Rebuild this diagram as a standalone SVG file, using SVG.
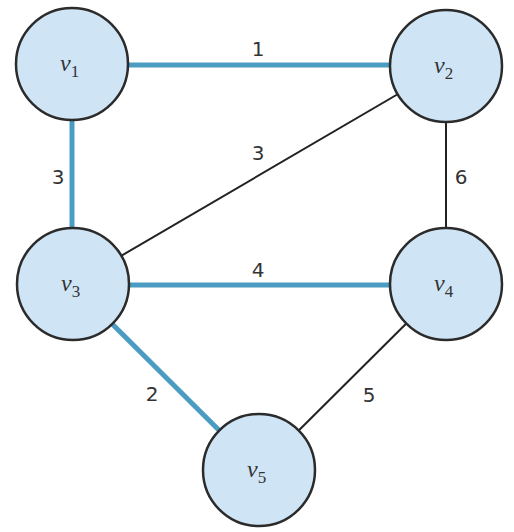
<svg xmlns="http://www.w3.org/2000/svg" width="514" height="532" viewBox="0 0 514 532">
<style>
.mst{stroke:#4a9cc2;stroke-width:5;fill:none}
.thin{stroke:#222;stroke-width:2;fill:none}
.node{fill:#cfe5f6;stroke:#2b2b2b;stroke-width:2.5}
.nl{font-family:"Liberation Serif",serif;font-style:italic;font-size:24px;fill:#333}
.sub{font-family:"Liberation Serif",serif;font-size:17px;fill:#333;font-style:normal}
.el{font-family:"DejaVu Sans",sans-serif;font-size:20px;fill:#333;text-anchor:middle}
</style>
<rect width="514" height="532" fill="#fff"/>
<g id="connectors">
<line class="mst" x1="72" y1="65" x2="446" y2="65"/>
<line class="mst" x1="72" y1="65" x2="72" y2="284"/>
<line class="mst" x1="72" y1="285" x2="446" y2="285"/>
<line class="mst" x1="72" y1="284" x2="259" y2="470"/>
<line class="thin" x1="446" y1="66" x2="73" y2="284"/>
<line class="thin" x1="446" y1="66" x2="446" y2="284"/>
<line class="thin" x1="446" y1="284" x2="259" y2="470"/>
<text class="el" x="258" y="56">1</text>
<text class="el" x="58" y="184">3</text>
<text class="el" x="258" y="160">3</text>
<text class="el" x="461" y="184">6</text>
<text class="el" x="258" y="277">4</text>
<text class="el" x="152" y="401">2</text>
<text class="el" x="369" y="402">5</text>
</g>
<g id="v1"><circle class="node" cx="72" cy="64" r="56"/><text class="nl" x="60" y="71">v<tspan class="sub" dy="6">1</tspan></text></g>
<g id="v2"><circle class="node" cx="446" cy="66" r="56"/><text class="nl" x="434" y="73">v<tspan class="sub" dy="6">2</tspan></text></g>
<g id="v3"><circle class="node" cx="73" cy="284" r="56"/><text class="nl" x="61" y="291">v<tspan class="sub" dy="6">3</tspan></text></g>
<g id="v4"><circle class="node" cx="446" cy="284" r="56"/><text class="nl" x="434" y="291">v<tspan class="sub" dy="6">4</tspan></text></g>
<g id="v5"><circle class="node" cx="259" cy="470" r="56"/><text class="nl" x="247" y="477">v<tspan class="sub" dy="6">5</tspan></text></g>
</svg>
